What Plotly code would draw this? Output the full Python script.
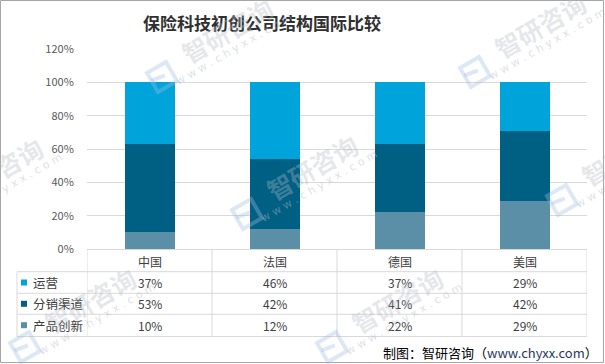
import math
import plotly.graph_objects as go

categories = ["中国", "法国", "德国", "美国"]
series_names = ["产品创新", "分销渠道", "运营"]
product_innovation = [10, 12, 22, 29]
distribution = [53, 42, 41, 42]
operations = [37, 46, 37, 29]
colors = {"运营": "#00A3DA", "分销渠道": "#006083", "产品创新": "#5B8FA8"}
ytick_vals = [0, 0.2, 0.4, 0.6, 0.8, 1.0, 1.2]

W, H = 605, 364
L, R, T, B = 87, 18, 49, 115
PW, PH = W - L - R, H - T - B


def px(x):
    return (x - L) / PW


def py(y):
    return (H - B - y) / PH


values = {"产品创新": product_innovation, "分销渠道": distribution, "运营": operations}

fig = go.Figure()
for name in series_names:
    fig.add_trace(go.Bar(
        x=categories, y=[v / 100 for v in values[name]], name=name,
        marker=dict(color=colors[name], line=dict(width=0)),
        hoverinfo="skip",
    ))

shapes = []
annotations = []
grid = "#D9D9D9"
font_cjk = "Noto Sans CJK SC, Microsoft YaHei, sans-serif"


def ann(**kw):
    kw.setdefault("showarrow", False)
    kw.setdefault("xanchor", "center")
    kw.setdefault("yanchor", "middle")
    annotations.append(kw)


# table lines
row_lines = [271.7, 293.3, 314.3, 336.5]
for yl in row_lines:
    shapes.append(dict(type="line", xref="paper", yref="paper", x0=px(17), x1=px(587),
                       y0=py(yl), y1=py(yl), line=dict(color=grid, width=1)))
shapes.append(dict(type="line", xref="paper", yref="paper", x0=px(17), x1=px(17),
                   y0=py(271.7), y1=py(336.5), line=dict(color=grid, width=1)))
for i in range(len(categories) + 1):
    shapes.append(dict(type="line", xref="x", yref="paper", x0=i - 0.5, x1=i - 0.5,
                       y0=py(250), y1=py(336.5), line=dict(color=grid, width=1)))

# header
for i, c in enumerate(categories):
    ann(x=i, y=py(261), xref="x", yref="paper", text=c,
        font=dict(size=12, color="#404040", family=font_cjk))

rows = [("运营", operations, 282.5), ("分销渠道", distribution, 303.8), ("产品创新", product_innovation, 325.2)]
for name, vals, yc in rows:
    shapes.append(dict(type="rect", xref="paper", yref="paper", x0=px(21), x1=px(27),
                       y0=py(yc - 3), y1=py(yc + 3), line=dict(width=0),
                       fillcolor=colors[name]))
    ann(x=px(31), y=py(yc), xref="paper", yref="paper", text=name, xanchor="left",
        font=dict(size=12.5, color="#404040", family=font_cjk))
    for i, v in enumerate(vals):
        ann(x=i, y=py(yc), xref="x", yref="paper", text=f"{v}%",
            font=dict(size=12, color="#404040", family=font_cjk))

# title
ann(x=px(262), y=py(22), xref="paper", yref="paper",
    text="<b>保险科技初创公司结构国际比较</b>",
    font=dict(size=17, color="#303030", family="Noto Sans CJK SC, serif"))

# footer
ann(x=px(600), y=py(352), xref="paper", yref="paper", xanchor="right",
    text="制图：智研咨询（<span style='color:#1F3864'>www.chyxx.com</span>）",
    font=dict(size=13, color="#000000", family=font_cjk))

# watermarks (text centre positions in pixels)
wm_centers = [(227, 30), (540, 25), (312, 167), (627, 153), (-3, 170), (90, 300), (397, 300)]
ang = math.radians(30)
ux, uy = math.cos(ang), -math.sin(ang)      # along text
nx, ny = math.sin(ang), math.cos(ang)       # perpendicular (down-right)
for cx, cy in wm_centers:
    ann(x=px(cx), y=py(cy), xref="paper", yref="paper", text="<b>智研咨询</b>", textangle=-30,
        font=dict(size=25, color="rgba(180,186,196,0.35)", family=font_cjk))
    ann(x=px(cx + 20 * nx - 4 * ux), y=py(cy + 20 * ny - 4 * uy), xref="paper", yref="paper",
        text="w w w . c h y x x . c o m", textangle=-30,
        font=dict(size=11, color="rgba(180,186,196,0.45)", family="DejaVu Sans"))
    # logo: rotated square outline
    lx, ly = cx - 65, cy + 47
    s = 11
    pts = []
    for a, b in [(-s, -s), (s, -s), (s, s), (-s, s)]:
        X = lx + a * ux + b * nx
        Y = ly + a * uy + b * ny
        pts.append((px(X), py(Y)))
    path = "M " + " L ".join(f"{p[0]:.5f},{p[1]:.5f}" for p in pts) + " Z"
    shapes.append(dict(type="path", xref="paper", yref="paper", path=path,
                       line=dict(color="rgba(160,190,225,0.35)", width=4),
                       fillcolor="rgba(0,0,0,0)"))
    mid = [(lx - s * nx * 0.2 - s * ux, ly - s * ny * 0.2 - s * uy),
           (lx + s * ux * 0.3, ly + s * uy * 0.3)]
    shapes.append(dict(type="line", xref="paper", yref="paper",
                       x0=px(mid[0][0]), y0=py(mid[0][1]), x1=px(mid[1][0]), y1=py(mid[1][1]),
                       line=dict(color="rgba(160,190,225,0.35)", width=4)))

# outer border
shapes.append(dict(type="rect", xref="paper", yref="paper", x0=px(0.5), x1=px(603.5),
                   y0=py(362.5), y1=py(0.5), line=dict(color="#A6A6A6", width=1)))

fig.update_layout(
    barmode="stack", bargap=0.6,
    width=W, height=H,
    margin=dict(l=L, r=R, t=T, b=B, pad=0, autoexpand=False),
    paper_bgcolor="white", plot_bgcolor="white",
    showlegend=False,
    shapes=shapes, annotations=annotations,
    font=dict(family=font_cjk),
)
fig.update_xaxes(range=[-0.5, 3.5], showticklabels=False, showgrid=False,
                 showline=True, linecolor=grid, linewidth=1, zeroline=False, fixedrange=True)
fig.update_yaxes(range=[0, 1.2], tickvals=ytick_vals, tickformat=".0%",
                 showgrid=True, gridcolor=grid, gridwidth=1, zeroline=False,
                 tickfont=dict(size=11, color="#595959", family=font_cjk),
                 ticks="outside", ticklen=10, tickcolor="rgba(0,0,0,0)", fixedrange=True)

fig.write_html("out.html", config={"displayModeBar": False},
               post_script="document.body.style.margin='0';")
